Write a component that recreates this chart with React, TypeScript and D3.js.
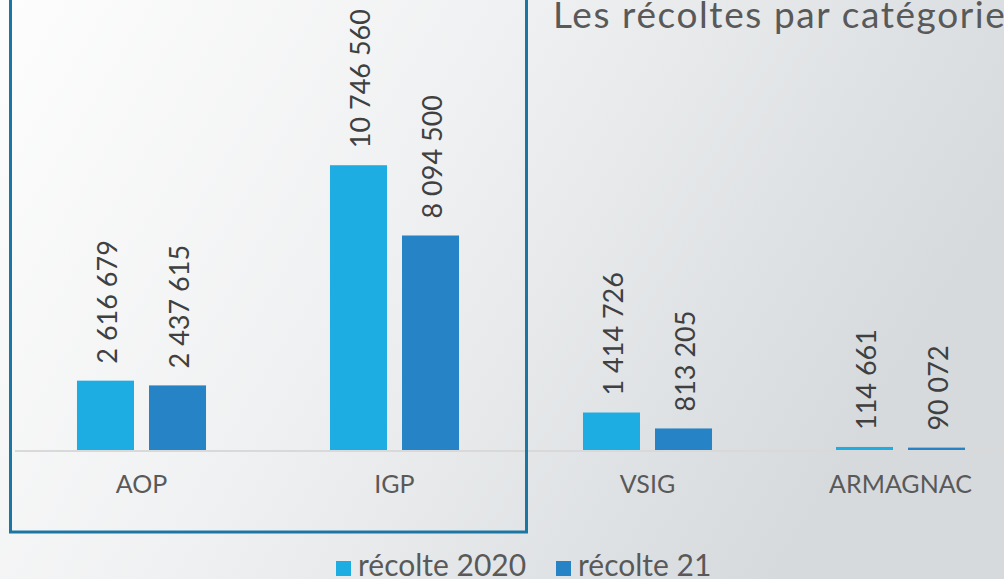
import React from "react";
import * as d3 from "d3";

const categories = ["AOP", "IGP", "VSIG", "ARMAGNAC"];
const seriesNames = ["récolte 2020", "récolte 21"];
const recolte2020 = [2616679, 10746560, 1414726, 114661];
const recolte21 = [2437615, 8094500, 813205, 90072];
const seriesColors = ["#1EADE3", "#2683C6"];
const title = "Les récoltes par catégorie";

const W = 1004;
const H = 579;
const FONT = "Lato, 'Open Sans', sans-serif";

const fmt = (v: number) => d3.format(",")(v).replace(/,/g, " ");

export default function App() {
  const x0 = d3
    .scaleBand<string>()
    .domain(categories)
    .range([15, 1027])
    .paddingInner(0.49)
    .paddingOuter(0.245);
  const x1 = d3
    .scaleBand<string>()
    .domain(seriesNames)
    .range([0, x0.bandwidth()])
    .paddingInner(0.2083);
  const y = d3.scaleLinear().domain([0, 12000000]).range([450, 132]);

  const seriesData = [recolte2020, recolte21];

  return (
    <svg
      width={W}
      height={H}
      style={{ position: "absolute", left: 0, top: 0, display: "block" }}
      fontFamily={FONT}
    >
      <defs>
        <linearGradient id="bg" x1="0" y1="0" x2="1" y2="0.35">
          <stop offset="0" stopColor="#fdfdfd" />
          <stop offset="0.45" stopColor="#f0f1f2" />
          <stop offset="1" stopColor="#d6dadd" />
        </linearGradient>
      </defs>
      <rect x={0} y={0} width={W} height={H} fill="url(#bg)" />

      <text x={553} y={28} fontSize={37} letterSpacing={1.6} fill="#595959">
        {title}
      </text>

      {/* axis baseline */}
      <line x1={15} x2={W} y1={451} y2={451} stroke="#d9d9d9" strokeWidth={2} />

      {categories.map((c, ci) => (
        <g key={c} transform={`translate(${x0(c)},0)`}>
          {seriesNames.map((s, si) => {
            const v = seriesData[si][ci];
            const bx = x1(s)!;
            const bw = x1.bandwidth();
            const top = y(v);
            const cx = bx + bw / 2 + 1.5;
            return (
              <g key={s}>
                <rect x={bx} y={top} width={bw} height={y(0) - top} fill={seriesColors[si]} />
                <text
                  transform={`translate(${cx},${top - 17}) rotate(-90)`}
                  dy="0.36em"
                  fontSize={27}
                  fill="#404040"
                  textAnchor="start"
                >
                  {fmt(v)}
                </text>
              </g>
            );
          })}
          <text
            x={x0.bandwidth() / 2}
            y={493}
            textAnchor="middle"
            fontSize={25}
            fill="#595959"
          >
            {c}
          </text>
        </g>
      ))}

      {/* highlight box */}
      <rect
        x={10.5}
        y={-10}
        width={516}
        height={542}
        fill="none"
        stroke="#1c76a3"
        strokeWidth={3}
      />

      {/* legend */}
      {[
        { sq: 336, tx: 358 },
        { sq: 556, tx: 578 },
      ].map((p, i) => (
        <g key={seriesNames[i]}>
          <rect x={p.sq} y={561} width={15} height={15} fill={seriesColors[i]} />
          <text x={p.tx} y={576} fontSize={30} fill="#595959">
            {seriesNames[i]}
          </text>
        </g>
      ))}
    </svg>
  );
}
